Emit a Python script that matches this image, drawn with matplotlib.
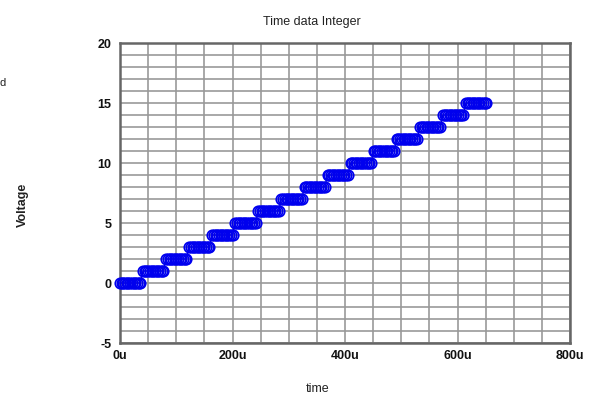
import matplotlib
matplotlib.use("Agg")
import matplotlib.pyplot as plt
import numpy as np

plt.rcParams['font.family'] = ['Liberation Sans', 'DejaVu Sans']
plt.rcParams['axes.unicode_minus'] = False

# Data (time in microseconds, voltage levels)
levels = [0, 1, 2, 3, 4, 5, 6, 7, 8, 9, 10, 11, 12, 13, 14, 15]
step_start_us = [0, 41, 82, 123, 164, 205, 246, 287, 328, 369, 410, 451, 492, 533, 574, 615]
sample_offsets_us = [0, 3, 6, 9, 12, 15, 18, 21, 24, 27, 30, 33, 36]

x_ticks = [0, 200, 400, 600, 800]
x_tick_labels = ['0u', '200u', '400u', '600u', '800u']
y_ticks = [-5, 0, 5, 10, 15, 20]

t = []
v = []
for lvl, s in zip(levels, step_start_us):
    for o in sample_offsets_us:
        t.append(s + o)
        v.append(lvl)

fig = plt.figure(figsize=(6.12, 4.02), dpi=100)
ax = fig.add_axes([120/612, 1 - 344/402, 450/612, 300/402])

ax.plot(t, v, color='#0000cc', linewidth=1, marker='o', markersize=7.5,
        markerfacecolor='none', markeredgecolor='#0000ee', markeredgewidth=1.25,
        zorder=3, clip_on=False)

ax.set_xlim(0, 800)
ax.set_ylim(-5, 20)
ax.set_xticks(x_ticks)
ax.set_xticklabels(x_tick_labels)
ax.set_yticks(y_ticks)
ax.set_xticks(np.arange(0, 801, 50), minor=True)
ax.set_yticks(np.arange(-5, 21, 1), minor=True)
ax.grid(which='both', color='#999999', linewidth=1.2, zorder=0)
ax.tick_params(which='both', length=0)
ax.tick_params(axis='both', labelsize=9, colors='#111111')
ax.tick_params(axis='x', pad=4)
ax.tick_params(axis='y', pad=6)
for lab in ax.get_xticklabels() + ax.get_yticklabels():
    lab.set_fontweight('bold')
for sp in ax.spines.values():
    sp.set_color('#666666')
    sp.set_linewidth(1.8)

fig.text(312/612, 1 - 22/402, 'Time data Integer', ha='center', va='center', fontsize=9, color='#222222')
fig.text(318/612, 1 - 389/402, 'time', ha='center', va='center', fontsize=9, color='#222222')
fig.text(23/612, 1 - 205/402, 'Voltage', ha='center', va='center', rotation=90,
         fontsize=9, fontweight='bold', color='#222222')
fig.text(0, 1 - 83/402, 'd', ha='left', va='center', fontsize=8, color='#222222')

fig.savefig('out.png', dpi=100)
